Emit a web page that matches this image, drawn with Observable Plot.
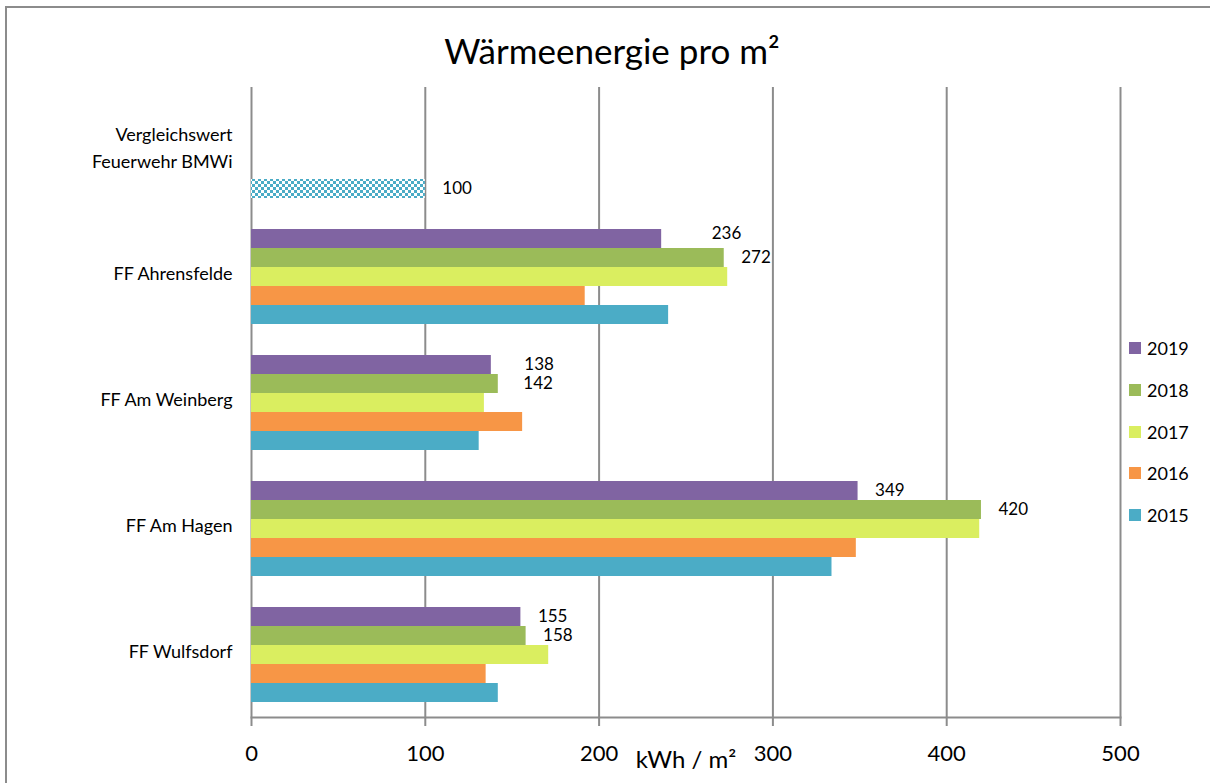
<!DOCTYPE html>
<html>
<head>
<meta charset="utf-8">
<script src="https://cdn.jsdelivr.net/npm/d3@7"></script>
<script src="https://cdn.jsdelivr.net/npm/@observablehq/plot@0.6"></script>
<style>
  html, body { margin: 0; padding: 0; background: #fff; overflow: hidden; }
  #page { position: relative; width: 1210px; height: 783px; font-family: Lato, "Open Sans", sans-serif; color: #000; }
  #border { position: absolute; left: 5px; top: 6px; width: 1300px; height: 900px; border: 2px solid #8c8c8c; }
  #title { position: absolute; left: 0; top: 29px; width: 1224px; text-align: center; font-size: 35px; line-height: 42px; }
  #chart { position: absolute; left: 0; top: 80px; }
  #legend { position: absolute; left: 1129px; top: 0; }
  .item { position: absolute; left: 0; display: flex; align-items: center; height: 24px; font-size: 18px; white-space: nowrap; }
  .swatch { width: 12px; height: 12px; margin-right: 6px; }
</style>
</head>
<body>
<div id="page">
  <div id="border"></div>
  <div id="title">Wärmeenergie pro m²</div>
  <div id="chart"></div>
  <div id="legend"></div>
</div>
<script>
// Fire stations (top to bottom) and heating energy per m² by year
const categories = ["Vergleichswert\nFeuerwehr BMWi", "FF Ahrensfelde", "FF Am Weinberg", "FF Am Hagen", "FF Wulfsdorf"];
const years = ["2019", "2018", "2017", "2016", "2015"];
const v2019 = [null, 236, 138, 349, 155];
const v2018 = [null, 272, 142, 420, 158];
const v2017 = [null, 274, 134, 419, 171];
const v2016 = [null, 192, 156, 348, 135];
const v2015 = [null, 240, 131, 334, 142];
const referenceValue = 100; // BMWi benchmark for fire stations
const labeledYears = ["2019", "2018"];
const xTicks = [0, 100, 200, 300, 400, 500];
const yearColors = ["#8064A2", "#9BBB59", "#DAEE60", "#F79646", "#4BACC6"];

const gridColor = "#8c8c8c";
const series = {"2019": v2019, "2018": v2018, "2017": v2017, "2016": v2016, "2015": v2015};

const rows = years.flatMap(year =>
  categories.map((cat, i) => ({cat, year, value: series[year][i]}))
).filter(d => d.value != null);

const referenceRow = [{cat: categories[0], year: "2015", value: referenceValue}];

// a few labels are shifted sideways to keep clear of neighbouring bars
const labelNudge = {
  "FF Ahrensfelde|2019": [33, -5],
  "FF Am Weinberg|2019": [16, 0],
  "FF Am Weinberg|2018": [8, 0]
};

const labelRows = rows.filter(d => labeledYears.includes(d.year));
const labelMarks = labelRows.concat(referenceRow).map(d => {
  const [ndx, ndy] = labelNudge[d.cat + "|" + d.year] || [0, 0];
  return Plot.text([d], {
    fy: "cat", y: "year", x: "value", text: d => String(d.value),
    textAnchor: "start", dx: 17 + ndx, dy: ndy, fontSize: 17, fill: "#000"
  });
});

const chart = Plot.plot({
  width: 1210,
  height: 703,
  marginTop: 5,
  marginBottom: 65,
  marginLeft: 251,
  marginRight: 90,
  style: {fontFamily: "Lato, 'Open Sans', sans-serif", background: "transparent", color: "#000"},
  x: {domain: [0, 500]},
  fy: {domain: categories, paddingInner: 0, paddingOuter: 0},
  y: {domain: years, paddingInner: 0, paddingOuter: 0.76, axis: null},
  color: {domain: years, range: yearColors},
  marks: [
    Plot.ruleX(xTicks, {stroke: gridColor, strokeWidth: 2}),
    Plot.barX(rows, {fy: "cat", y: "year", x: "value", fill: "year"}),
    Plot.barX(referenceRow, {fy: "cat", y: "year", x: "value", fill: "url(#checker)"}),
    ...labelMarks,
    Plot.frame({anchor: "bottom", facetAnchor: "bottom", stroke: gridColor, strokeWidth: 2}),
    Plot.axisX({ticks: xTicks, tickSize: 9, tickPadding: 19, fontSize: 22, stroke: gridColor, strokeWidth: 2, fill: "#000", label: null}),
    Plot.text(["kWh / m²"], {frameAnchor: "bottom", dy: 50, facetAnchor: "bottom", fontSize: 24, fill: "#000"}),
    Plot.axisFy({anchor: "left", tickSize: 0, tickPadding: 19, fontSize: 18, lineHeight: 1.5, dy: -5, label: null, fill: "#000"})
  ]
});

chart.insertAdjacentHTML("afterbegin",
  `<defs><pattern id="checker" width="6" height="6" patternUnits="userSpaceOnUse">
     <rect width="6" height="6" fill="#ffffff"></rect>
     <rect width="3" height="3" fill="#4BACC6"></rect>
     <rect x="3" y="3" width="3" height="3" fill="#4BACC6"></rect>
   </pattern></defs>`);

document.getElementById("chart").appendChild(chart);

// legend on the right
const legend = document.getElementById("legend");
const legendCenters = [348, 390, 432, 473, 515];
years.forEach((y, i) => {
  const item = document.createElement("div");
  item.className = "item";
  item.style.top = (legendCenters[i] - 12) + "px";
  item.innerHTML = `<span class="swatch" style="background:${yearColors[i]}"></span><span>${y}</span>`;
  legend.appendChild(item);
});
</script>
</body>
</html>
